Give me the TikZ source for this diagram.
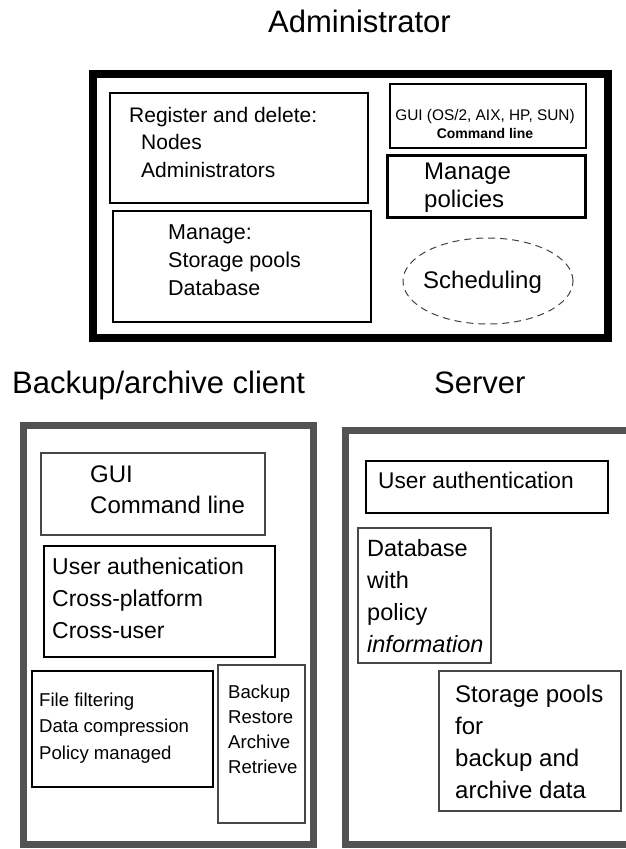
\documentclass[tikz,border=0pt]{standalone}
\usepackage{fontspec}
\setmainfont{Liberation Sans}
\usetikzlibrary{shapes.geometric}

\begin{document}
\begin{tikzpicture}[x=1pt, y=-1pt,
  every node/.style = {inner sep=0pt},
  heading/.style = {anchor=base west, font=\fontsize{31}{31}\selectfont},
  % multi-line text sits on the baseline of its last line
  body/.style 2 args = {align=left, anchor=base west,
    font=\fontsize{#1}{#2}\selectfont},
  outerframe/.style = {draw, line width=8pt},
  panel/.style = {draw=black!68, line width=7pt},
  solidbox/.style = {draw, line width=2.5pt},
  dotbox/.style = {draw=black!72, line width=2pt}]
  \useasboundingbox (0,0) rectangle (626,849);

  % titles
  \node[heading] (admtitle) at (268,32) {Administrator};
  \node[heading] (clititle) at (12,393) {Backup/archive client};
  \node[heading] (srvtitle) at (434,393) {Server};

  % administrator
  \node[outerframe, minimum width=515pt, minimum height=264pt] (adm) at (350.5,206) {};
  \node[solidbox, minimum width=258pt, minimum height=110pt] (regbox) at (239,148) {};
  \node[solidbox, minimum width=258pt, minimum height=111pt] (mgrbox) at (242,266.5) {};
  \node[solidbox, minimum width=196pt, minimum height=64pt] (admgui) at (488,116) {};
  \node[solidbox, line width=3pt, minimum width=198pt, minimum height=62pt] (polbox) at (486.5,186.5) {};
  \node[ellipse, draw=black!75, dashed, dash pattern=on 7pt off 5pt, line width=1pt,
    minimum width=170pt, minimum height=86pt] (sched) at (488,281) {};

  \node[body={21}{27.5}] (regtxt) at (129,177)
    {Register and delete:\\ \hspace*{12pt}Nodes\\ \hspace*{12pt}Administrators};
  \node[body={21.5}{28}] (mgrtxt) at (168,295) {Manage:\\Storage pools\\Database};
  \node[anchor=base, font=\fontsize{15.4}{17}\selectfont] (admguitxt) at (485,120)
    {GUI (OS/2, AIX, HP, SUN)};
  \node[anchor=base, font=\fontsize{14}{17}\selectfont\bfseries] (admcmdtxt) at (485,138)
    {Command line};
  \node[body={24}{28}] (poltxt) at (424,207) {Manage\\policies};
  \node[body={24}{28}] (schedtxt) at (423,288) {Scheduling};

  % backup/archive client
  \node[panel, minimum width=290pt, minimum height=419pt] (cli) at (168.5,635) {};
  \node[dotbox, minimum width=224pt, minimum height=82pt] (cligui) at (153,494) {};
  \node[solidbox, minimum width=231pt, minimum height=111pt] (cliauth) at (159.5,601.5) {};
  \node[solidbox, minimum width=181pt, minimum height=116pt] (clifile) at (122.5,729) {};
  \node[dotbox, minimum width=87pt, minimum height=158pt] (cliops) at (261.5,744) {};

  \node[body={24}{31}] (cliguitxt) at (90,513) {GUI\\Command line};
  \node[body={23}{32}] (cliauthtxt) at (52,638)
    {User authenication\\Cross-platform\\Cross-user};
  \node[body={18.6}{26.5}] (clifiletxt) at (39,759)
    {File filtering\\Data compression\\Policy managed};
  \node[body={18.6}{25}] (cliopstxt) at (228,773) {Backup\\Restore\\Archive\\Retrieve};

  % server
  \node[panel, minimum width=294.5pt, minimum height=414pt] (srv) at (492.75,637.5) {};
  \node[solidbox, minimum width=242pt, minimum height=52pt] (srvauth) at (487,487) {};
  \node[dotbox, minimum width=133pt, minimum height=135pt] (srvdb) at (424.5,595.5) {};
  \node[dotbox, minimum width=182pt, minimum height=140pt] (srvpool) at (530,741) {};

  \node[body={22.7}{30}] (srvauthtxt) at (378,488) {User authentication};
  \node[body={23.5}{32}] (srvdbtxt) at (367,652)
    {Database\\with\\policy\\\textit{information}};
  \node[body={24}{32}] (srvpooltxt) at (455,798)
    {Storage pools\\for\\backup and\\archive data};
\end{tikzpicture}
\end{document}
